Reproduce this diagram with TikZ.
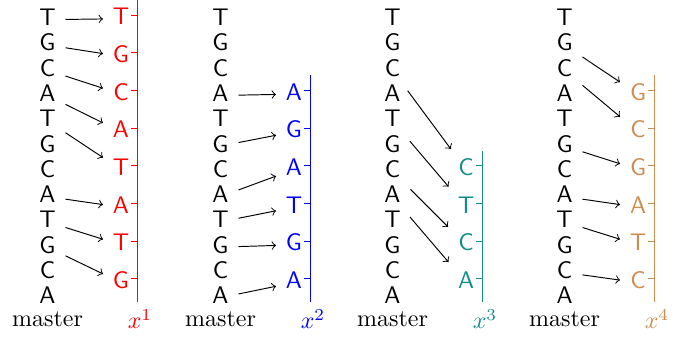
\documentclass[tikz,border=0pt]{standalone}
\usepackage{xcolor}
\definecolor{cred}{RGB}{255,0,0}
\definecolor{cblue}{RGB}{0,0,255}
\definecolor{cteal}{RGB}{20,140,135}
\definecolor{cbrown}{RGB}{205,140,80}
\begin{document}
\begin{tikzpicture}[x=0.41667pt,y=-0.41667pt,
  letter/.style={font=\sffamily, inner sep=3.33pt, minimum width=14.6pt, text height=7.5pt, text depth=2.5pt},
  conn/.style={->, line width=0.4pt},
  axisline/.style={line width=0.4pt},
  lbl/.style={anchor=base, inner sep=0pt}]
\useasboundingbox (0,0) rectangle (686,339);
% master columns
\foreach \p/\ox in {1/0,2/173,3/345,4/517}{
  \foreach \L [count=\i] in {T,G,C,A,T,G,C,A,T,G,C,A}
    \node[letter] (p\p m\i) at (\ox+47.5, 19.7+25.27*\i-25.27) {\L};
  \node[lbl] (p\p master) at (\ox+47.5,327) {master};
}
% panel 1
\foreach \L [count=\j from 1] in {T,G,C,A,T,A,T,G}{
  \node[letter, text=cred] (p1t\j) at (121, 18.7+37.7*\j-37.7) {\L};
  \draw[axisline, cred] (137, 15+37.7*\j-37.7) -- ++(-6,0);
}
\draw[axisline, cred] (137,0) -- (137,302);
\node[lbl, text=cred] (p1x) at (140,329) {$x^1$};
\foreach \a/\b in {1/1,2/2,3/3,4/4,5/5,8/6,9/7,10/8}
  \draw[conn] (p1m\a) -- (p1t\b);
% panel 2
\foreach \L [count=\j from 3] in {A,G,A,T,G,A}{
  \node[letter, text=cblue] (p2t\j) at (173+121, 18.7+37.7*\j-37.7) {\L};
  \draw[axisline, cblue] (173+137, 15+37.7*\j-37.7) -- ++(-6,0);
}
\draw[axisline, cblue] (173+137,15+37.7*2-15) -- (173+137,302);
\node[lbl, text=cblue] (p2x) at (173+140,329) {$x^2$};
\foreach \a/\b in {4/3,6/4,8/5,9/6,10/7,12/8}
  \draw[conn] (p2m\a) -- (p2t\b);
% panel 3
\foreach \L [count=\j from 5] in {C,T,C,A}{
  \node[letter, text=cteal] (p3t\j) at (345+121, 18.7+37.7*\j-37.7) {\L};
  \draw[axisline, cteal] (345+137, 15+37.7*\j-37.7) -- ++(-6,0);
}
\draw[axisline, cteal] (345+137,15+37.7*4-15) -- (345+137,302);
\node[lbl, text=cteal] (p3x) at (345+140,329) {$x^3$};
\foreach \a/\b in {3/5,5/6,7/7,8/8}
  \draw[conn] (p3m\a) -- (p3t\b);
% panel 4
\foreach \L [count=\j from 3] in {G,C,G,A,T,C}{
  \node[letter, text=cbrown] (p4t\j) at (517+121, 18.7+37.7*\j-37.7) {\L};
  \draw[axisline, cbrown] (517+137, 15+37.7*\j-37.7) -- ++(-6,0);
}
\draw[axisline, cbrown] (517+137,15+37.7*2-15) -- (517+137,302);
\node[lbl, text=cbrown] (p4x) at (517+140,329) {$x^4$};
\foreach \a/\b in {2/3,3/4,6/5,8/6,9/7,11/8}
  \draw[conn] (p4m\a) -- (p4t\b);
\end{tikzpicture}
\end{document}
